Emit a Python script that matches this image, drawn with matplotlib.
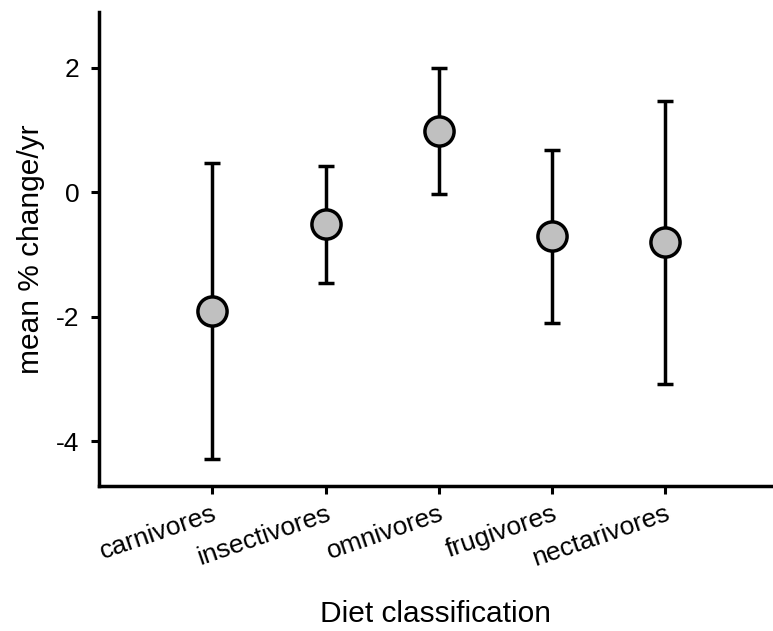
import numpy as np
import matplotlib.pyplot as plt

plt.rcParams['font.family'] = ['Liberation Sans', 'DejaVu Sans']

# mean % change per year by diet, with lower / upper interval ends
diets = ['carnivores', 'insectivores', 'omnivores', 'frugivores', 'nectarivores']
means = [-1.91, -0.51, 0.99, -0.70, -0.80]
lower = [-4.29, -1.46, -0.03, -2.10, -3.08]
upper = [0.47, 0.42, 2.00, 0.68, 1.47]
yticks = [-4, -2, 0, 2]

x = np.arange(1, len(diets) + 1)
means = np.array(means)
yerr = [means - np.array(lower), np.array(upper) - means]

fig = plt.figure(figsize=(7.73, 6.31), dpi=100)
ax = fig.add_axes([99 / 773, 1 - 486 / 631, 1 - 99 / 773, (486 - 12) / 631])

ax.errorbar(x, means, yerr=yerr, fmt='o', color='black', ecolor='black',
            elinewidth=2.5, capsize=6, capthick=2.5,
            markersize=21, markerfacecolor='#c0c0c0', markeredgecolor='black',
            markeredgewidth=2.5, zorder=3)

ax.set_xlim(0, 5.95)
ax.set_ylim(-4.72, 2.90)
ax.set_yticks(yticks)
ax.set_yticklabels([str(v) for v in yticks])
ax.set_xticks(x)
ax.set_xticklabels(diets, rotation=19, ha='right', va='top', rotation_mode='anchor')

for side in ['top', 'right']:
    ax.spines[side].set_visible(False)
for side in ['left', 'bottom']:
    ax.spines[side].set_linewidth(2.5)
ax.tick_params(axis='both', width=2.2, length=6, labelsize=19, pad=8)
ax.tick_params(axis='x', pad=5)

ax.set_ylabel('mean % change/yr', fontsize=21.5, labelpad=8)
ax.set_xlabel('Diet classification', fontsize=21.5, labelpad=21)

fig.savefig('out.png', dpi=100)
